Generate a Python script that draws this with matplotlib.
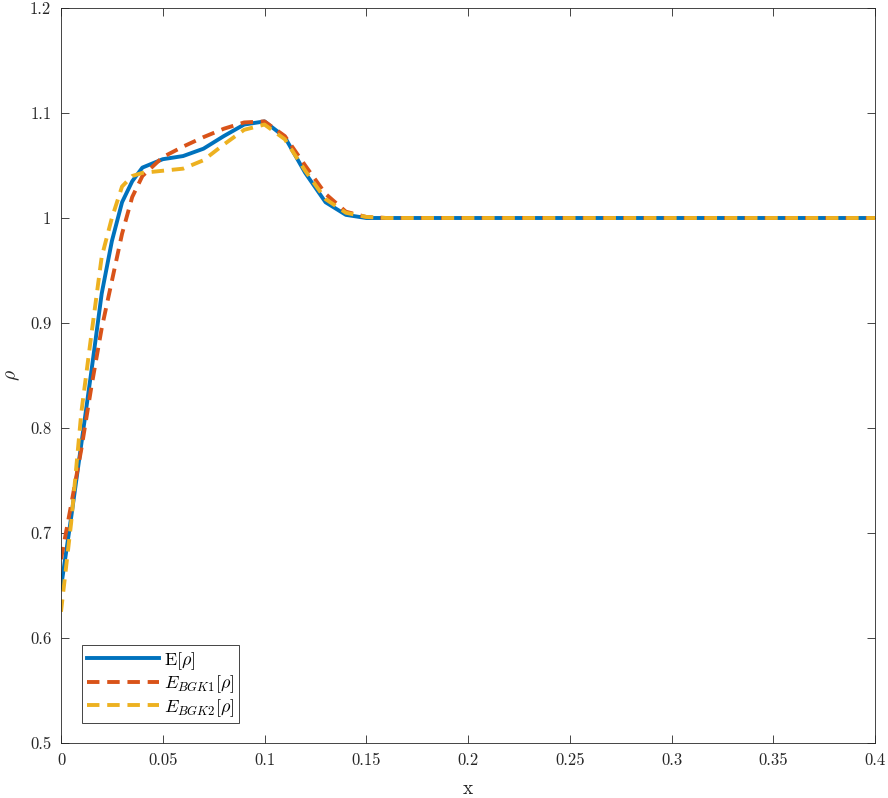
import matplotlib
matplotlib.use("Agg")
import matplotlib.pyplot as plt
from matplotlib.ticker import FuncFormatter

# sample positions (denser where the profiles rise)
x = [0, 0.005, 0.01, 0.015, 0.02, 0.025, 0.03, 0.035, 0.04, 0.05, 0.06, 0.07, 0.08,
     0.09, 0.1, 0.11, 0.12, 0.13, 0.14, 0.15, 0.16, 0.2, 0.3, 0.4]

rho_mean = [0.648, 0.715, 0.785, 0.855, 0.928, 0.978, 1.015, 1.035, 1.048, 1.056, 1.059,
            1.066, 1.078, 1.089, 1.092, 1.077, 1.043, 1.015, 1.003, 1.0, 1.0, 1.0, 1.0, 1.0]
rho_bgk1 = [0.675, 0.727, 0.78, 0.84, 0.895, 0.94, 0.985, 1.02, 1.04, 1.058, 1.068,
            1.077, 1.085, 1.091, 1.092, 1.078, 1.05, 1.023, 1.006, 1.001, 1.0, 1.0, 1.0, 1.0]
rho_bgk2 = [0.625, 0.71, 0.815, 0.89, 0.963, 1.0, 1.03, 1.04, 1.043, 1.045, 1.047,
            1.055, 1.07, 1.084, 1.089, 1.075, 1.045, 1.018, 1.005, 1.001, 1.0, 1.0, 1.0, 1.0]

labels = [r"$\mathrm{E}[\rho]$", r"$E_{BGK1}[\rho]$", r"$E_{BGK2}[\rho]$"]

plt.rcParams["font.family"] = "serif"
plt.rcParams["font.serif"] = ["cmr10", "DejaVu Serif"]
plt.rcParams["mathtext.fontset"] = "cm"
plt.rcParams["axes.formatter.use_mathtext"] = True

fig = plt.figure(figsize=(8.88, 7.98), dpi=100)
ax = fig.add_axes([61 / 888, 55 / 798, 814 / 888, 735 / 798])

# same drawing order as the original: mean first, then the two BGK estimates on top
ax.plot(x, rho_mean, color="#0072BD", lw=2.8, label=labels[0])
ax.plot(x, rho_bgk1, color="#D95319", lw=2.8, dashes=(3.2, 2), label=labels[1])
ax.plot(x, rho_bgk2, color="#EDB120", lw=2.8, dashes=(3.2, 2), label=labels[2])

ax.set_xlim(0, 0.4)
ax.set_ylim(0.5, 1.2)
ax.set_xticks([0, 0.05, 0.1, 0.15, 0.2, 0.25, 0.3, 0.35, 0.4])
ax.set_yticks([0.5, 0.6, 0.7, 0.8, 0.9, 1.0, 1.1, 1.2])
fmt = FuncFormatter(lambda v, p: "%g" % v)
ax.xaxis.set_major_formatter(fmt)
ax.yaxis.set_major_formatter(fmt)

for s in ax.spines.values():
    s.set_color("#262626")
    s.set_linewidth(0.6)
ax.tick_params(direction="in", top=True, right=True, length=6, width=0.6,
               color="#262626", labelsize=12, labelcolor="#262626", pad=7)

ax.set_xlabel("x", fontsize=14, color="#262626", labelpad=9)
ax.set_ylabel(r"$\rho$", fontsize=14, color="#262626", labelpad=6)

leg = ax.legend(loc="lower left", bbox_to_anchor=(0.026, 0.027), borderaxespad=0,
                fontsize=13, handlelength=4.0, fancybox=False, framealpha=1,
                edgecolor="#262626", borderpad=0.25, labelspacing=0.1, handletextpad=0.3)
leg.get_frame().set_linewidth(0.6)

fig.savefig("out.png", dpi=100)
